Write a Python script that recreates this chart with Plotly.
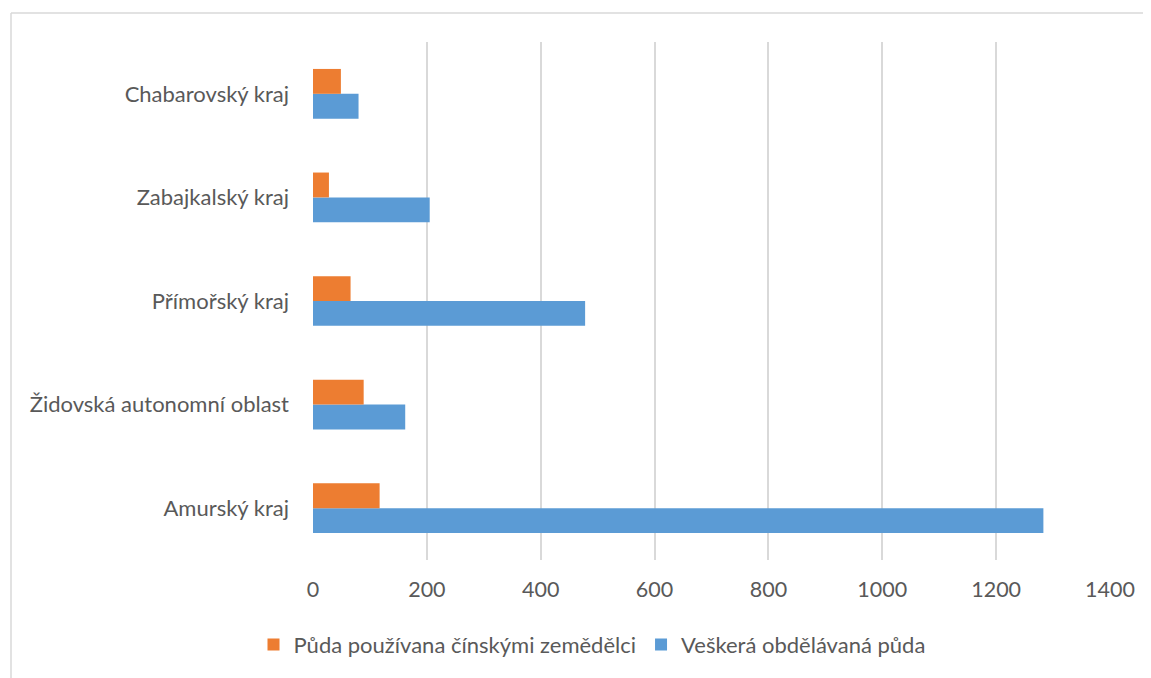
import plotly.graph_objects as go

categories = ["Amurský kraj", "Židovská autonomní oblast", "Přímořský kraj", "Zabajkalský kraj", "Chabarovský kraj"]
chinese_farmers = [117, 89, 66, 28, 49]
all_cultivated = [1283, 162, 478, 205, 80]
series_names = ["Půda používana čínskými zemědělci", "Veškerá obdělávaná půda"]
x_ticks = [0, 200, 400, 600, 800, 1000, 1200, 1400]

# page body has an 8px default margin; work in figure coordinates
OFF = 8
W, H = 1151 - OFF, 678 - OFF
L, R, T, B = 313 - OFF, 1110 - OFF, 42 - OFF, 562 - OFF

fig = go.Figure()
fig.add_trace(go.Bar(
    y=categories, x=all_cultivated, orientation="h", name=series_names[1],
    marker=dict(color="#5B9BD5", line=dict(width=0)),
))
fig.add_trace(go.Bar(
    y=categories, x=chinese_farmers, orientation="h", name=series_names[0],
    marker=dict(color="#ED7D31", line=dict(width=0)),
))

font_family = "Lato, 'Open Sans', sans-serif"
fig.update_layout(
    width=W, height=H,
    margin=dict(l=L, r=W - R, t=T, b=H - B, pad=0),
    barmode="group", bargap=0.52, bargroupgap=0,
    plot_bgcolor="white", paper_bgcolor="white",
    font=dict(family=font_family, color="#595959", size=22),
    showlegend=True,
    legend=dict(
        orientation="h", traceorder="reversed",
        x=(592 - OFF - L) / (R - L), xanchor="center",
        y=(B - (647 - OFF)) / (B - T), yanchor="middle",
        font=dict(size=22, color="#595959"),
        itemwidth=30,
    ),
    xaxis=dict(
        range=[0, 1400], tickvals=x_ticks, ticktext=[str(v) for v in x_ticks],
        showgrid=True, gridcolor="#d9d9d9", gridwidth=1.5,
        zeroline=False, showline=False, ticks="",
        tickfont=dict(size=21.5, color="#595959"),
        ticklabelstandoff=14,
    ),
    yaxis=dict(
        categoryorder="array", categoryarray=categories,
        showgrid=False, zeroline=False, showline=False, ticks="",
        tickfont=dict(size=22, color="#595959"),
        ticklabelstandoff=23,
    ),
    shapes=[
        dict(type="line", xref="paper", yref="paper",
             x0=(11 - OFF - L) / (R - L), x1=(W + 5 - L) / (R - L),
             y0=(B - (13 - OFF)) / (B - T), y1=(B - (13 - OFF)) / (B - T),
             line=dict(color="#d9d9d9", width=1.5)),
        dict(type="line", xref="paper", yref="paper",
             x0=(11 - OFF - L) / (R - L), x1=(11 - OFF - L) / (R - L),
             y0=(B - (13 - OFF)) / (B - T), y1=(B - H - 5) / (B - T),
             line=dict(color="#d9d9d9", width=1.5)),
    ],
)

fig.write_html("out.html")
